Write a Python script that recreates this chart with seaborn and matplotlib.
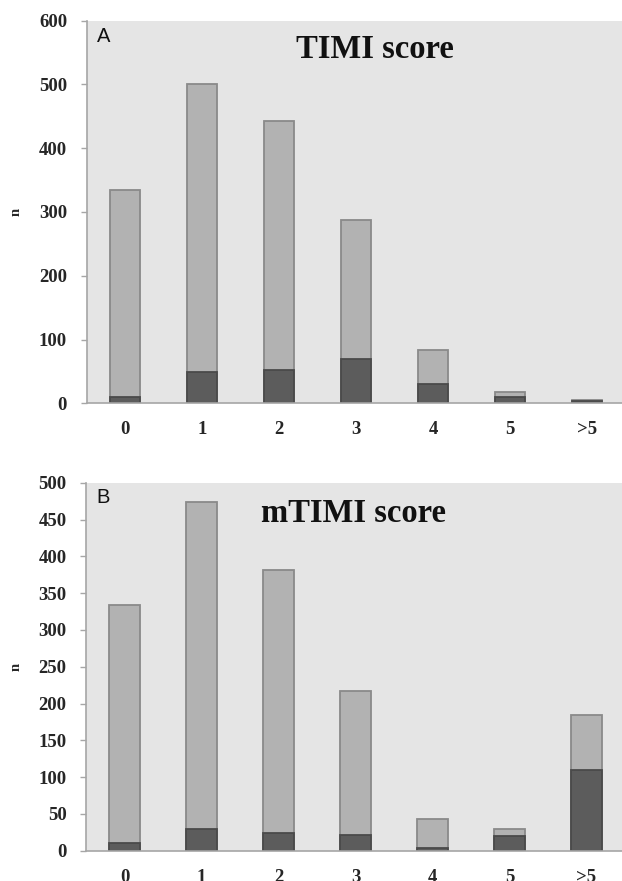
import seaborn as sns
import matplotlib as mpl
mpl.use('Agg')
import matplotlib.pyplot as plt
import numpy as np

categories = ['0', '1', '2', '3', '4', '5', '>5']
timi_total = [334, 500, 443, 287, 84, 17, 5]
timi_events = [10, 49, 52, 70, 30, 10, 4]
mtimi_total = [334, 474, 382, 217, 43, 30, 185]
mtimi_events = [10, 30, 24, 21, 4, 20, 109]

sns.set_style('white')
light = '#b2b2b2'
dark = '#5c5c5c'
grey = '#a6a6a6'
serif = 'Liberation Serif'

fig = plt.figure(figsize=(6.22, 8.81), dpi=100)
ax1 = fig.add_axes([86.5/622, 1-403.3/881, 539/622, 382.6/881])
ax2 = fig.add_axes([86/622, 1-850.7/881, 539/622, 368/881])


def panel(ax, total, events, ymax, step, title, letter, tx, ty, ly):
    ax.set_facecolor('#e5e5e5')
    sns.barplot(x=categories, y=total, color=light, saturation=1, width=0.4,
                edgecolor='#8a8a8a', linewidth=1.3, ax=ax)
    sns.barplot(x=categories, y=events, color=dark, saturation=1, width=0.4,
                edgecolor='#4a4a4a', linewidth=1.3, ax=ax)
    ax.set_xlim(-0.5, 6.5)
    ax.set_ylim(0, ymax)
    ax.set_yticks(np.arange(0, ymax + 1, step))
    ax.set_xticks(np.arange(-0.5, 7, 1), minor=True)
    for s in ['top', 'right']:
        ax.spines[s].set_visible(False)
    for s in ['left', 'bottom']:
        ax.spines[s].set_color(grey)
        ax.spines[s].set_linewidth(1.2)
    ax.tick_params(axis='x', which='major', length=0, pad=13)
    ax.tick_params(axis='x', which='minor', length=4, color=grey, width=1, direction='out')
    ax.tick_params(axis='y', which='major', length=4, color=grey, width=1, direction='out', pad=10, left=True)
    for lab in ax.get_xticklabels() + ax.get_yticklabels():
        lab.set_fontfamily(serif)
        lab.set_fontweight('bold')
        lab.set_fontsize(13.5)
    ax.set_ylabel('n', fontfamily=serif, fontweight='bold', fontsize=10.5)
    ax.yaxis.set_label_coords(-0.118, 0.5)
    ax.text(tx, ty, title, transform=ax.transAxes, ha='center', va='baseline',
            fontfamily=serif, fontweight='bold', fontsize=23.5, color='#111111')
    ax.text(0.02, ly, letter, transform=ax.transAxes, ha='left', va='baseline',
            fontfamily='Liberation Sans', fontsize=14.5, color='#111111')


panel(ax1, timi_total, timi_events, 600, 100, 'TIMI score', 'A', 0.535, 0.9025, 0.944)
panel(ax2, mtimi_total, mtimi_events, 500, 50, 'mTIMI score', 'B', 0.497, 0.894, 0.945)

fig.savefig('out.png', dpi=100)
